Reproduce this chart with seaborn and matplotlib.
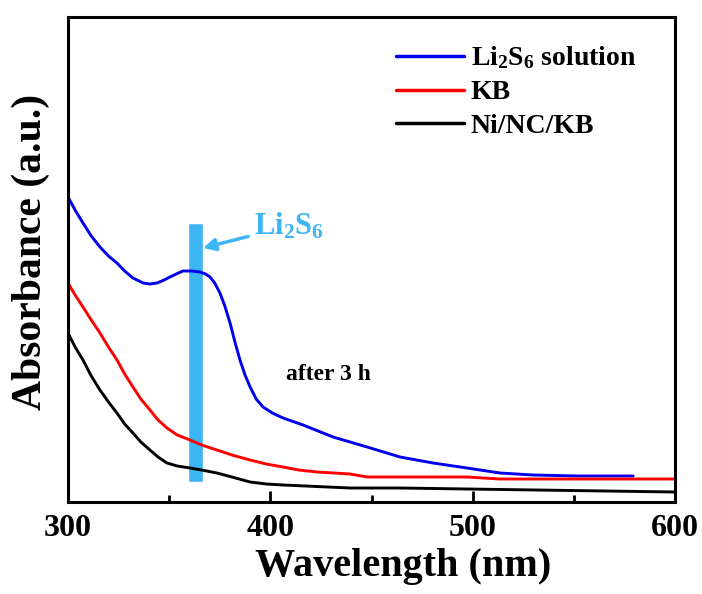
import numpy as np
import pandas as pd
import matplotlib
matplotlib.use("Agg")
from matplotlib import pyplot as plt
from matplotlib.ticker import MultipleLocator
import seaborn as sns

# spectra (arbitrary absorbance units)
li2s6_wl = [300, 303.5, 307.4, 311.5, 315.8, 320, 324.2, 328, 332.1, 337.1, 340.5, 344,
            347.5, 350.4, 353.5, 356.8, 361, 365.3, 368, 370.2, 372.5, 375.1, 377.5,
            380.1, 382.5, 385, 387.5, 390, 393, 396.4, 401, 406.3, 416.2, 431, 447.8,
            464.1, 480.4, 497.2, 513.5, 529.9, 551.6, 579.3]
li2s6_abs = [3.05, 2.92, 2.79, 2.66, 2.55, 2.46, 2.39, 2.31, 2.24, 2.19, 2.18, 2.19,
             2.22, 2.25, 2.28, 2.31, 2.31, 2.30, 2.28, 2.25, 2.19, 2.09, 1.96,
             1.79, 1.60, 1.42, 1.27, 1.15, 1.03, 0.95, 0.89, 0.84, 0.77, 0.65, 0.55,
             0.45, 0.39, 0.34, 0.29, 0.27, 0.26, 0.26]

kb_wl = [300, 303.5, 307.4, 311.5, 315.8, 320, 324.2, 328, 332.1, 336, 340.5, 344.5,
         348.9, 354, 360.3, 366, 373.6, 381, 390, 398, 406.3, 414, 423.1, 439.4,
         447.8, 497.2, 513.5, 600]
kb_abs = [2.19, 2.07, 1.95, 1.82, 1.69, 1.55, 1.42, 1.28, 1.15, 1.03, 0.92, 0.82,
          0.74, 0.67, 0.62, 0.57, 0.52, 0.47, 0.42, 0.38, 0.35, 0.32, 0.30, 0.28,
          0.25, 0.25, 0.23, 0.23]

ni_wl = [300, 303.5, 307.4, 311.5, 315.8, 320, 324.2, 328, 332.1, 336, 340.5, 344.5,
         348.9, 354, 360.3, 366, 373.6, 381, 390, 398, 406.3, 439.4, 464.1, 497.2, 600]
ni_abs = [1.69, 1.55, 1.42, 1.26, 1.12, 1.00, 0.89, 0.78, 0.69, 0.60, 0.52, 0.45,
          0.39, 0.36, 0.34, 0.32, 0.29, 0.25, 0.20, 0.18, 0.17, 0.14, 0.14, 0.13, 0.10]

labels = ["Li$_2$S$_6$ solution", "KB", "Ni/NC/KB"]
colors = ["#0000ee", "#ff0000", "#000000"]

# Li2S6 marker band
band_wl = (359.3, 366.7)
band_abs = (0.20, 2.79)

df = pd.concat([
    pd.DataFrame({"wl": li2s6_wl, "abs": li2s6_abs, "sample": labels[0]}),
    pd.DataFrame({"wl": kb_wl, "abs": kb_abs, "sample": labels[1]}),
    pd.DataFrame({"wl": ni_wl, "abs": ni_abs, "sample": labels[2]}),
])

sns.set_style("ticks")
plt.rcParams["font.family"] = ["Liberation Serif", "DejaVu Serif"]
plt.rcParams["font.weight"] = "bold"
plt.rcParams["text.color"] = "black"
plt.rcParams["axes.labelcolor"] = "black"
plt.rcParams["xtick.color"] = "black"
plt.rcParams["axes.edgecolor"] = "black"
plt.rcParams["mathtext.fontset"] = "custom"
plt.rcParams["mathtext.rm"] = "Liberation Serif:bold"
plt.rcParams["mathtext.it"] = "Liberation Serif:bold"
plt.rcParams["mathtext.bf"] = "Liberation Serif:bold"
plt.rcParams["mathtext.default"] = "rm"

fig = plt.figure(figsize=(7.02, 5.94), dpi=100)
ax = fig.add_axes([68 / 702, 92 / 594, 607 / 702, 485 / 594])

cyan = "#3db5f2"
ax.bar((band_wl[0] + band_wl[1]) / 2, band_abs[1] - band_abs[0], bottom=band_abs[0],
       width=band_wl[1] - band_wl[0], color=cyan, zorder=1)

sns.lineplot(data=df, x="wl", y="abs", hue="sample", palette=colors, ax=ax,
             linewidth=2.1, sort=False, estimator=None, zorder=2)

ax.set_xlim(300, 600)
ax.set_ylim(0, 4.85)
ax.xaxis.set_major_locator(MultipleLocator(100))
ax.xaxis.set_minor_locator(MultipleLocator(50))
ax.set_yticks([])
ax.tick_params(axis="x", which="major", direction="in", length=8, width=2,
               labelsize=23, pad=9, colors="black")
ax.tick_params(axis="x", which="minor", direction="in", length=5, width=2)
for s in ax.spines.values():
    s.set_linewidth(2.2)
    s.set_color("black")

ax.set_xlabel("Wavelength (nm)", fontsize=29, fontweight="bold")
ax.xaxis.set_label_coords(0.552, -0.095)
ax.set_ylabel("Absorbance (a.u.)", fontsize=30, fontweight="bold")
ax.yaxis.set_label_coords(-0.03, 0.515)

ax.annotate("Li$_2$S$_6$", xy=(366.7, 2.54), xytext=(392, 2.76), color=cyan,
            fontsize=22, ha="left", va="center",
            arrowprops=dict(arrowstyle="-|>", color=cyan, lw=2.5, mutation_scale=18,
                            shrinkA=2, shrinkB=0))
ax.text(407.5, 1.27, "after 3 h", fontsize=17, fontweight="bold", ha="left", va="center")

leg = ax.legend(loc="upper left", bbox_to_anchor=(0.54, 0.943), frameon=False,
                fontsize=20, handlelength=2.45, handletextpad=0.25, labelspacing=0.3,
                borderaxespad=0, borderpad=0)
for line in leg.get_lines():
    line.set_linewidth(2.5)

fig.savefig("out.png", dpi=100)
